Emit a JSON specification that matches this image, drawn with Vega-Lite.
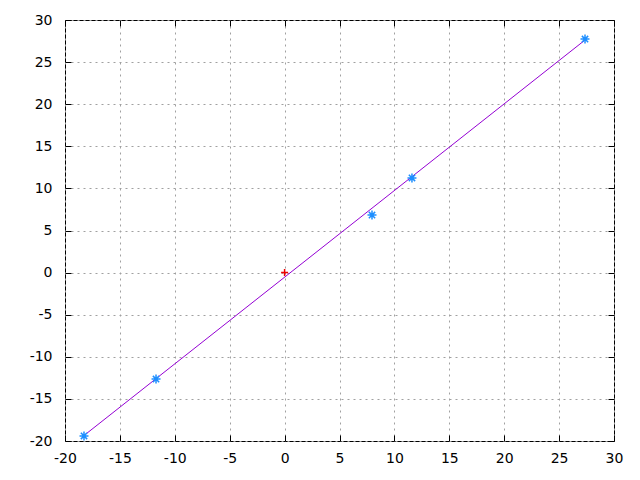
{
  "$schema": "https://vega.github.io/schema/vega-lite/v6.json",
  "width": 549,
  "height": 421,
  "autosize": {"type": "none"},
  "padding": {"left": 65, "top": 20, "right": 26, "bottom": 39},
  "background": "white",
  "config": {
    "view": {"stroke": "black", "strokeWidth": 1},
    "axis": {
      "labelFont": "DejaVu Sans",
      "labelFontSize": 14,
      "labelColor": "black",
      "labelExpr": "'' + datum.value",
      "labelFlush": false,
      "labelOverlap": false,
      "labelBound": false,
      "title": null,
      "domain": false,
      "gridColor": "#a0a0a0",
      "gridDash": [2, 4],
      "gridWidth": 1,
      "gridOpacity": 1,
      "tickColor": "black",
      "tickSize": -6,
      "tickWidth": 1
    }
  },
  "data": {
    "values": [
      {"x": -18.27, "y": -19.4, "s": "pts"},
      {"x": -11.71, "y": -12.64, "s": "pts"},
      {"x": 7.96, "y": 6.84, "s": "pts"},
      {"x": 11.6, "y": 11.24, "s": "pts"},
      {"x": 27.36, "y": 27.74, "s": "pts"},
      {"x": 0, "y": 0, "s": "origin"},
      {"x": -18.27, "y": -19.35, "s": "fit"},
      {"x": 27.36, "y": 27.62, "s": "fit"}
    ]
  },
  "encoding": {
    "x": {"field": "x", "type": "quantitative", "scale": {"domain": [-20, 30], "nice": false, "zero": false}},
    "y": {"field": "y", "type": "quantitative", "scale": {"domain": [-20, 30], "nice": false, "zero": false}}
  },
  "layer": [
    {
      "transform": [{"filter": "datum.s === 'fit'"}],
      "mark": {"type": "line", "color": "#9400d3", "strokeWidth": 1},
      "encoding": {
        "x": {"field": "x", "type": "quantitative", "axis": {"orient": "bottom", "values": [-20,-15,-10,-5,0,5,10,15,20,25,30], "grid": true, "labelPadding": 16}},
        "y": {"field": "y", "type": "quantitative", "axis": {"orient": "left", "values": [-20,-15,-10,-5,0,5,10,15,20,25,30], "grid": true, "labelPadding": 19}}
      }
    },
    {
      "transform": [{"filter": "datum.s === 'pts'"}],
      "mark": {"type": "point", "shape": "M-1,0L1,0M0,-1L0,1M-0.7,-0.7L0.7,0.7M-0.7,0.7L0.7,-0.7", "filled": false, "stroke": "#1e8fff", "strokeWidth": 1.5, "size": 81, "opacity": 1},
      "encoding": {
        "x": {"field": "x", "type": "quantitative", "axis": {"orient": "top", "values": [-20,-15,-10,-5,0,5,10,15,20,25,30], "grid": false, "labels": false}},
        "y": {"field": "y", "type": "quantitative", "axis": {"orient": "right", "values": [-20,-15,-10,-5,0,5,10,15,20,25,30], "grid": false, "labels": false}}
      }
    },
    {
      "transform": [{"filter": "datum.s === 'origin'"}],
      "mark": {"type": "point", "shape": "M-1,0L1,0M0,-1L0,1", "filled": false, "stroke": "#ee0000", "strokeWidth": 1.5, "size": 49, "opacity": 1},
      "encoding": {
        "x": {"field": "x", "type": "quantitative", "axis": null},
        "y": {"field": "y", "type": "quantitative", "axis": null}
      }
    }
  ],
  "resolve": {"axis": {"x": "independent", "y": "independent"}}
}
